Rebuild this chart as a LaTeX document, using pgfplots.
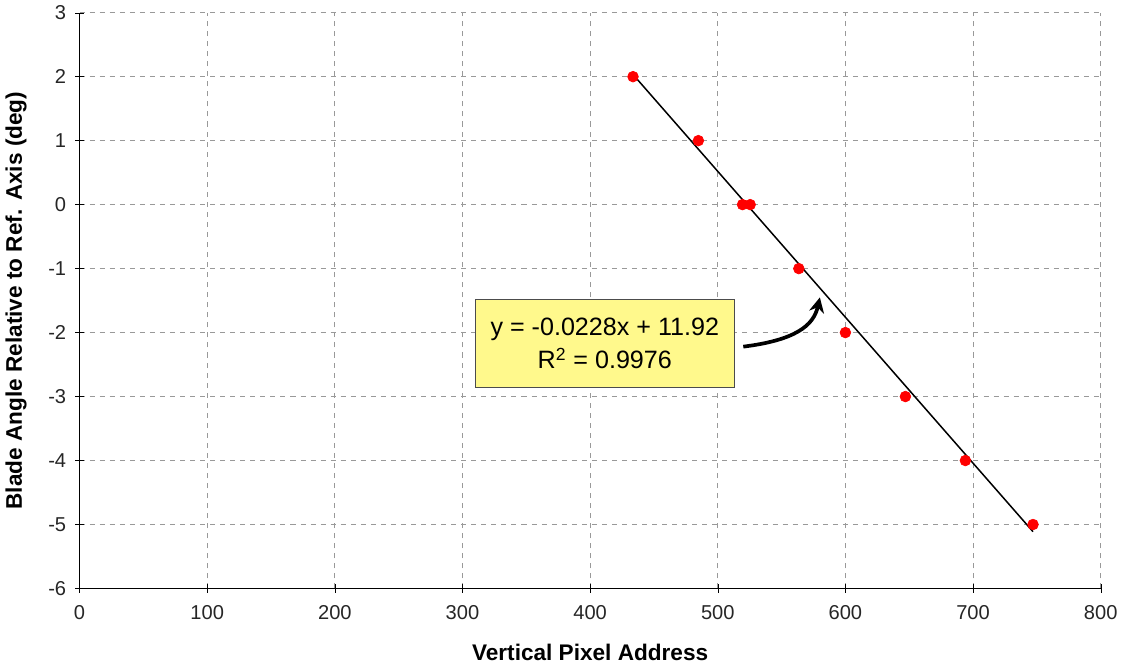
\documentclass[border=0pt]{standalone}
\usepackage{pgfplots}
\pgfplotsset{compat=1.18}
\usepackage{fontspec}
\setmainfont{Liberation Sans}
\usetikzlibrary{arrows.meta}
\begin{document}
\begin{tikzpicture}
\begin{axis}[
  width=610pt, height=344pt, scale only axis,
  xmin=0, xmax=800, ymin=-6, ymax=3,
  xtick={0,100,...,800}, ytick={-6,-5,...,3},
  axis x line*=bottom, axis y line*=left,
  axis line style={black, -},
  tick align=center,
  major tick length=5pt,
  tick style={black},
  grid=major,
  grid style={gray!80, dashed, line width=0.5pt},
  ticklabel style={font=\fontsize{12}{14}\selectfont, color=black!85},
  xticklabel style={yshift=-4pt},
  yticklabel style={xshift=-2pt},
  /pgf/number format/assume math mode=true,
  xlabel={\bfseries Vertical Pixel Address},
  ylabel={\bfseries Blade Angle Relative to Ref. Axis (deg)},
  label style={font=\fontsize{13.5}{15}\selectfont},
  xlabel style={yshift=-8pt},
  ylabel style={yshift=6pt},
  clip=false,
]
\addplot[black, line width=0.9pt, no marks] coordinates {(433.6,2.034) (747,-5.112)};
\addplot[only marks, mark=*, mark size=3.2pt, red, mark options={draw=red, fill=red}] coordinates {
(433.6,2) (484.8,1) (519.4,0) (525.4,0) (563.5,-1) (600,-2) (647,-3) (694,-4) (747,-5)};
\node[draw=black!70, fill=yellow!45, line width=0.6pt, align=center,
  font=\fontsize{15}{20}\selectfont, inner xsep=2pt, inner ysep=4pt,
  minimum width=155pt, minimum height=53pt]
  at (axis cs:411.5,-2.17) {y = -0.0228x + 11.92\\R\textsuperscript{2} = 0.9976};
\draw[-{Stealth[length=9pt,width=9pt]}, line width=2.2pt, black]
  (axis cs:520,-2.22) .. controls (axis cs:560,-2.12) and (axis cs:575,-1.9) .. (axis cs:580,-1.45);
\end{axis}
\end{tikzpicture}
\end{document}
